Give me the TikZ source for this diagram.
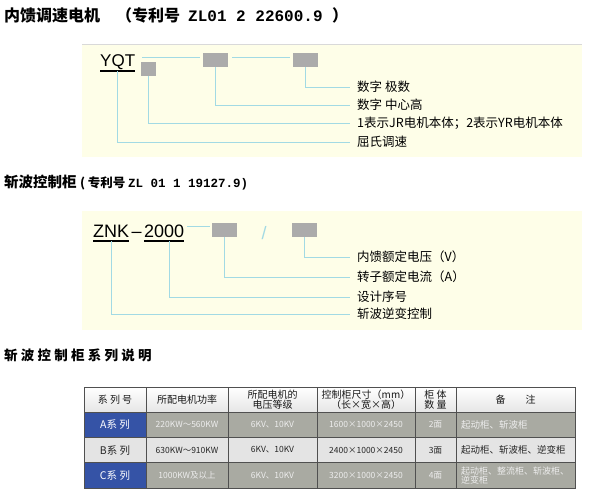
\documentclass[tikz,border=0pt]{standalone}
\usepackage{fontspec}
\setmainfont{Noto Sans CJK SC}
\setsansfont{Liberation Sans}
\setmonofont{Liberation Mono}
\newfontfamily\spacedcjk{Noto Sans CJK SC}[LetterSpace=24]
\usetikzlibrary{positioning}
\definecolor{panel}{HTML}{FEFEE8}
\definecolor{leadc}{HTML}{A2DAE4}
\definecolor{slot}{HTML}{ABABAB}
\definecolor{tblue}{HTML}{3553A6}
\definecolor{tgray}{HTML}{A9AAA2}
\definecolor{tlight}{HTML}{E4E4E4}
\definecolor{tpale}{HTML}{EDEDED}
\definecolor{tline}{HTML}{505050}

\begin{document}
\begin{tikzpicture}[x=1pt,y=-1pt,
    heading/.style={anchor=west,inner sep=0pt,font=\bfseries\fontsize{16}{18}\selectfont},
    panelbox/.style={rectangle,fill=panel,inner sep=0pt,anchor=north west},
    code/.style={anchor=base west,inner sep=0pt,font=\sffamily\fontsize{18}{20}\selectfont},
    slotbox/.style={rectangle,fill=slot,inner sep=0pt,minimum width=25pt,minimum height=14pt},
    item/.style={anchor=west,inner xsep=7pt,inner ysep=0pt,font=\fontsize{12.5}{14}\selectfont},
    lead/.style={draw=leadc,line width=0.9pt},
    uline/.style={line width=1.4pt},
    cell/.style={rectangle,draw=tline,line width=0.8pt,inner sep=0pt,align=center,minimum height=25.25pt,font=\fontsize{8.5}{10}\selectfont},
    hd/.style={cell,top color=white,bottom color=black!10,text=black!90,font=\fontsize{10}{10}\selectfont},
    tag/.style={cell,fill=#1,font=\fontsize{10.5}{12}\selectfont},
    grayrow/.style={cell,fill=tgray,text=tpale},
    lightrow/.style={cell,fill=tlight,text=black!85},
    note/.style={inner xsep=5pt,text width=109pt,align=left,font=\fontsize{9.5}{9.5}\selectfont},
]
\useasboundingbox (0,0) rectangle (591,501);

% Title 1
\node[heading] (title1) at (4,15) {内馈调速电机\hspace{16pt}（专利号\hspace{8pt}{\ttfamily ZL01 2 22600.9 }）};

% Panel 1 - YQT
\node[panelbox,minimum width=500pt,minimum height=113pt] (panel1) at (82,44) {};
\draw[black!15,line width=0.8pt] (panel1.north west) -- (panel1.north east);
\node[code,font=\sffamily\fontsize{17}{19}\selectfont] (yqt) at (100,66) {YQT};
\draw[uline] ([yshift=-5pt]yqt.base west) -- ([yshift=-5pt]yqt.base east);
\node[slotbox,minimum width=15pt] (s1) at (148.5,69) {};
\node[slotbox] (s2) at (215.5,60) {};
\node[slotbox] (s3) at (305.5,60) {};
\coordinate (c1) at (142,57);
\draw[lead,shorten >=3pt] (c1) -- (c1 -| s2.west);
\draw[lead,shorten <=4pt,shorten >=3pt] (s2.east |- c1) -- (s3.west |- c1);
\node[item] (n1) at (350,87) {数字 极数};
\node[item] (n2) at (350,105) {数字 中心高};
\node[item] (n3) at (350,123) {1表示JR电机本体；2表示YR电机本体};
\node[item] (n4) at (350,142) {屈氏调速};
\draw[lead] (s3.south) |- (n1.west);
\draw[lead] (s2.south) |- (n2.west);
\draw[lead] (s1.south) |- (n3.west);
\draw[lead] ([yshift=-5pt]yqt.base) |- (n4.west);

% Title 2
\node[heading,font=\bfseries\fontsize{14.5}{16}\selectfont] (title2) at (4,183) {斩波控制柜 {\fontsize{12.5}{14}\selectfont( 专利号 \ttfamily ZL 01 1 19127.9)}};

% Panel 2 - ZNK
\node[panelbox,minimum width=500pt,minimum height=119pt] (panel2) at (82,211) {};
\node[code] (znk) at (93,237) {ZNK};
\node[code,base right=2pt of znk] (dash) {–};
\node[code,base right=2pt of dash] (num) {2000};
\draw[uline] ([yshift=-4pt]znk.base west) -- ([yshift=-4pt]znk.base east);
\draw[uline] ([yshift=-4pt]num.base west) -- ([yshift=-4pt]num.base east);
\node[slotbox] (sa) at (224.5,230) {};
\node[code,text=leadc,anchor=base] (slash) at (264,239) {/};
\node[slotbox] (sb) at (304.5,230) {};
\coordinate (c2) at ([yshift=4pt]num.east);
\draw[lead,shorten <=3pt,shorten >=2pt] (c2) -- (c2 -| sa.west);
\node[item] (v1) at (350,257) {内馈额定电压（V）};
\node[item] (v2) at (350,277) {转子额定电流（A）};
\node[item] (v3) at (350,297) {设计序号};
\node[item] (v4) at (350,314) {斩波逆变控制};
\draw[lead] (sb.south) |- (v1.west);
\draw[lead] (sa.south) |- (v2.west);
\draw[lead] ([xshift=5pt,yshift=-4pt]num.base) |- (v3.west);
\draw[lead] ([yshift=-4pt]znk.base) |- (v4.west);

% Title 3
\node[heading,font=\spacedcjk\bfseries\fontsize{13.5}{15}\selectfont] (title3) at (4,355) {斩波控制柜系列说明};

% Table - header
\node[hd,minimum width=62pt] (h1) at (115,399.6) {系 列 号};
\node[hd,minimum width=82pt] (h2) at (187,399.6) {所配电机功率};
\node[hd,minimum width=89pt] (h3) at (272.5,399.6) {所配电机的\\电压等级};
\node[hd,minimum width=98pt] (h4) at (366,399.6) {控制柜尺寸（mm）\\（长×宽×高）};
\node[hd,minimum width=41pt] (h5) at (435.5,399.6) {柜 体\\数 量};
\node[hd,minimum width=119pt] (h6) at (515.5,399.6) {备\hspace{2em}注};

% Row A
\node[tag=tblue,text=white,minimum width=62pt] (a1) at (115,424.9) {A系 列};
\node[grayrow,minimum width=82pt] (a2) at (187,424.9) {220KW～560KW};
\node[grayrow,minimum width=89pt] (a3) at (272.5,424.9) {6KV、10KV};
\node[grayrow,minimum width=98pt] (a4) at (366,424.9) {1600×1000×2450};
\node[grayrow,minimum width=41pt] (a5) at (435.5,424.9) {2面};
\node[grayrow,note] (a6) at (515.5,424.9) {起动柜、斩波柜};

% Row B
\node[tag=tlight,text=black!85,minimum width=62pt] (b1) at (115,450.1) {B系 列};
\node[lightrow,minimum width=82pt] (b2) at (187,450.1) {630KW～910KW};
\node[lightrow,minimum width=89pt] (b3) at (272.5,450.1) {6KV、10KV};
\node[lightrow,minimum width=98pt] (b4) at (366,450.1) {2400×1000×2450};
\node[lightrow,minimum width=41pt] (b5) at (435.5,450.1) {3面};
\node[lightrow,note] (b6) at (515.5,450.1) {起动柜、斩波柜、逆变柜};

% Row C
\node[tag=tblue,text=white,minimum width=62pt] (r1) at (115,475.4) {C系 列};
\node[grayrow,minimum width=82pt] (r2) at (187,475.4) {1000KW及以上};
\node[grayrow,minimum width=89pt] (r3) at (272.5,475.4) {6KV、10KV};
\node[grayrow,minimum width=98pt] (r4) at (366,475.4) {3200×1000×2450};
\node[grayrow,minimum width=41pt] (r5) at (435.5,475.4) {4面};
\node[grayrow,note,font=\fontsize{9}{9.5}\selectfont] (r6) at (515.5,475.4) {起动柜、整流柜、斩波柜、\\逆变柜};
\end{tikzpicture}
\end{document}
